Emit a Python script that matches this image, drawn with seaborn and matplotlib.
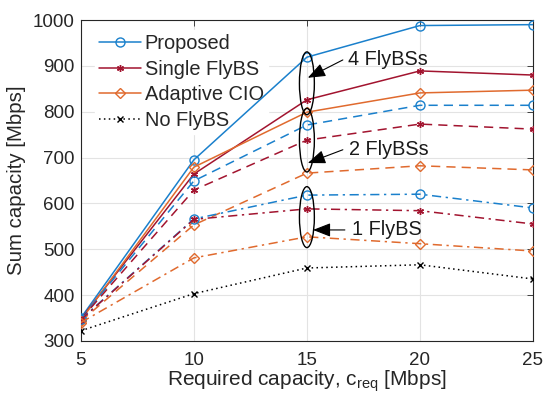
import matplotlib
matplotlib.use("Agg")
import matplotlib.pyplot as plt
import seaborn as sns
import pandas as pd
from matplotlib.patches import Ellipse
from matplotlib.lines import Line2D

sns.set_theme(style="white")
plt.rcParams['font.family'] = ['Liberation Sans', 'DejaVu Sans']
plt.rcParams['mathtext.fontset'] = 'custom'
plt.rcParams['mathtext.rm'] = 'Liberation Sans'
plt.rcParams['mathtext.it'] = 'Liberation Sans:italic'

# ---- data ----
x = [5, 10, 15, 20, 25]
proposed_4 = [350, 695, 919, 988, 990]
single_4 = [348, 664, 826, 889, 880]
adaptive_4 = [345, 679, 799, 841, 847]
proposed_2 = [348, 649, 771, 814, 814]
single_2 = [347, 629, 738, 773, 762]
adaptive_2 = [343, 553, 666, 682, 673]
proposed_1 = [347, 566, 618, 620, 590]
single_1 = [346, 565, 588, 584, 555]
adaptive_1 = [340, 481, 527, 512, 496]
no_flybs = [322, 403, 459, 466, 435]

legend_labels = ["Proposed", "Single FlyBS", "Adaptive CIO", "No FlyBS"]
group_labels = ["4 FlyBSs", "2 FlyBSs", "1 FlyBS"]
xticks = [5, 10, 15, 20, 25]
yticks = [300, 400, 500, 600, 700, 800, 900, 1000]

# ---- styles ----
c_blue = "#1a80cc"
c_red = "#A2142F"
c_orange = "#E06A2E"
asterisk = (6, 2, 0)

fig = plt.figure(figsize=(5.5, 4.01), dpi=100)
ax = fig.add_axes([0.147, 0.150, 0.822, 0.800])

series = [
    (proposed_4, c_blue, '-', 'o'),
    (single_4, c_red, '-', asterisk),
    (adaptive_4, c_orange, '-', 'D'),
    (proposed_2, c_blue, (0, (6, 4)), 'o'),
    (single_2, c_red, (0, (6, 4)), asterisk),
    (adaptive_2, c_orange, (0, (6, 4)), 'D'),
    (proposed_1, c_blue, (0, (6, 3, 1.5, 3)), 'o'),
    (single_1, c_red, (0, (6, 3, 1.5, 3)), asterisk),
    (adaptive_1, c_orange, (0, (6, 3, 1.5, 3)), 'D'),
    (no_flybs, 'black', (0, (1, 2.2)), 'x'),
]

for vals, col, ls, mk in series:
    df = pd.DataFrame({"x": x, "y": vals})
    ms = 5.5 if mk == 'D' else (6.5 if mk == 'o' else 5)
    sns.lineplot(data=df, x="x", y="y", ax=ax, color=col, linestyle=ls,
                 marker=mk, markersize=ms, markerfacecolor='none',
                 markeredgecolor=col, markeredgewidth=1.0, lw=1.1,
                 legend=False, zorder=3)

ax.set_xlim(5, 25)
ax.set_ylim(300, 1000)
ax.set_xticks(xticks)
ax.set_yticks(yticks)
ax.grid(True, color='#e3e3e3', lw=0.8, zorder=0)
ax.tick_params(direction='in', length=4, width=0.6, labelsize=13.5, colors='#262626',
               top=True, right=True)
ax.tick_params(axis='x', pad=8)
ax.tick_params(axis='y', pad=4.5)
for sp in ax.spines.values():
    sp.set_color('#262626')
    sp.set_linewidth(0.8)

ax.set_xlabel(r'Required capacity, c$_{\mathrm{req}}$ [Mbps]', fontsize=15, color='#262626', labelpad=0)
ax.set_ylabel('Sum capacity [Mbps]', fontsize=14.7, color='#262626', labelpad=5)

# ellipses & annotations
ell = [(862, 137), (738, 139), (570, 133)]
for cy, h in ell:
    ax.add_patch(Ellipse((15, cy), width=0.66, height=h, fill=False, ec='black', lw=1.0, zorder=4))

ann = [
    (group_labels[0], (16.59, 913), (15.04, 874), (16.81, 913)),
    (group_labels[1], (16.59, 717), (15.04, 688), (16.85, 717)),
    (group_labels[2], (16.68, 542), (15.27, 542), (16.98, 542)),
]
for txt, tail, head, tpos in ann:
    ax.annotate('', xy=head, xytext=tail,
                arrowprops=dict(arrowstyle='-|>,head_length=0.9,head_width=0.35', color='black', lw=0.8,
                                shrinkA=0, shrinkB=0), zorder=5)
    ax.text(tpos[0], tpos[1], txt, fontsize=14.3, va='center', ha='left', color='#1a1a1a', zorder=5)

handles = [
    Line2D([], [], color=c_blue, ls='-', marker='o', mfc='none', ms=6.5, lw=1.1),
    Line2D([], [], color=c_red, ls='-', marker=asterisk, mfc='none', ms=5, lw=1.1),
    Line2D([], [], color=c_orange, ls='-', marker='D', mfc='none', ms=5.5, lw=1.1),
    Line2D([], [], color='black', ls=(0, (1, 2.2)), marker='x', ms=5, lw=1.1),
]
leg = ax.legend(handles, legend_labels, loc='upper left', bbox_to_anchor=(0.031, 0.968),
                fontsize=14.4, frameon=True, facecolor='white', edgecolor='white',
                framealpha=1, handlelength=2.1, handletextpad=0.2, labelspacing=0.32,
                borderpad=0.2, borderaxespad=0.0)
leg.set_zorder(2)

fig.savefig("out.png", dpi=100)
